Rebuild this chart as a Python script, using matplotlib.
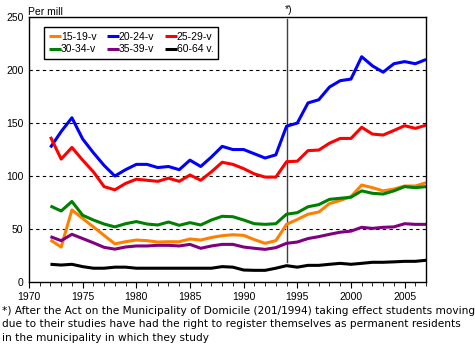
import matplotlib
matplotlib.use('Agg')
from matplotlib import pyplot as plt
from matplotlib.ticker import MultipleLocator

plt.rcParams['font.family'] = ['Liberation Sans', 'DejaVu Sans']

years = list(range(1972, 2008))

age_15_19 = [39.6, 33, 68, 60, 52, 44, 36, 38, 39.6, 39, 37.7, 38, 38, 40.6, 39.6, 42, 43.7, 44.6,
             44, 40, 36.5, 39, 54.4, 59, 64, 66, 74, 77, 80.5, 91.5, 89, 86, 87.7, 90.6, 90.6, 93.7]
age_20_24 = [127, 142, 155, 135, 122, 110, 100, 106, 111, 111, 108, 109, 106, 115, 109, 118, 128, 125,
             125, 121, 117, 120, 147, 150, 169, 172, 184, 190, 191.5, 212.6, 204, 198, 206, 208, 206, 210]
age_25_29 = [137, 116, 127, 115, 104, 90, 87, 93, 97, 96, 95, 98, 95, 101, 96, 104, 113, 111,
             107, 102, 99, 99, 113.5, 114, 124, 124.5, 131, 135.5, 135.5, 146, 139.6, 138.7, 143, 147.5, 145, 148]
age_30_34 = [71.7, 67, 76, 63, 58.5, 54.7, 52, 55, 57, 54.7, 53.8, 56.6, 53.5, 56, 53.8, 58.5, 62, 61.6,
             58.5, 55, 54.4, 55, 64, 65.4, 71, 73, 78, 79, 80, 86, 83.7, 83, 86, 90, 89, 90]
age_35_39 = [42.8, 39, 45, 41, 37, 32.7, 31, 33, 34, 34, 34.6, 34.6, 34, 35.5, 31.8, 34, 35.5, 35.5,
             33, 31.8, 30.8, 32.4, 36.5, 37.7, 41, 42.8, 45, 47, 48, 51.6, 50.6, 51.6, 52, 55, 54.4, 54.4]
age_60_64 = [16.7, 16, 16.7, 14.5, 13, 13, 14, 14, 13, 13, 13, 13, 13, 13, 13, 13, 14.5, 14,
             11.3, 11, 11, 13, 15.4, 14, 15.7, 15.7, 16.7, 17.6, 16.7, 17.6, 18.6, 18.6, 19, 19.5, 19.5, 20.5]

series = [
    ('15-19-v', age_15_19, '#FF8000'),
    ('20-24-v', age_20_24, '#0000FF'),
    ('25-29-v', age_25_29, '#FF0000'),
    ('30-34-v', age_30_34, '#008000'),
    ('35-39-v', age_35_39, '#800080'),
    ('60-64 v.', age_60_64, '#000000'),
]

fig = plt.figure(figsize=(4.75, 3.49), dpi=100)
ax = fig.add_axes([0.061, 0.192, 0.836, 0.759])

lines = {}
for label, vals, color in series:
    lines[label], = ax.plot(years, vals, color=color, lw=2.2, label=label, solid_capstyle='butt')

# grid lines
for yv in [50, 100, 150, 200]:
    ax.axhline(yv, color='black', lw=0.8, ls=(0, (3, 3)), zorder=0)

# law change marker
ax.plot([1994, 1994], [19, 248], color='#404040', lw=1.0, zorder=1)
ax.text(1994.2, 252, '*)', ha='center', va='bottom', fontsize=7.5, clip_on=False)

ax.set_xlim(1970, 2007)
ax.set_ylim(0, 250)
ax.xaxis.set_major_locator(MultipleLocator(5))
ax.xaxis.set_minor_locator(MultipleLocator(1))
ax.yaxis.set_major_locator(MultipleLocator(50))
ax.tick_params(axis='x', which='major', length=4, direction='out', labelsize=7.5, pad=3)
ax.tick_params(axis='x', which='minor', length=3, direction='out')
ax.tick_params(axis='y', length=0, labelsize=7.5, pad=4)
for sp in ax.spines.values():
    sp.set_linewidth(1.0)

order = ['15-19-v', '30-34-v', '20-24-v', '35-39-v', '25-29-v', '60-64 v.']
leg = ax.legend([lines[k] for k in order], order, ncol=3, loc='upper left',
                bbox_to_anchor=(0.038, 0.962), borderaxespad=0, fontsize=7.5,
                handlelength=1.15, handletextpad=0.0, columnspacing=1.0,
                labelspacing=0.25, fancybox=False, framealpha=1, edgecolor='black',
                borderpad=0.45)
leg.get_frame().set_linewidth(1.0)

fig.text(0.058, 0.98, 'Per mill', ha='left', va='top', fontsize=7.5)

footnote = ('*) After the Act on the Municipality of Domicile (201/1994) taking effect students moving\n'
            'due to their studies have had the right to register themselves as permanent residents\n'
            'in the municipality in which they study')
fig.text(0.004, 0.122, footnote, ha='left', va='top', fontsize=7.6, linespacing=1.38,
         family='DejaVu Sans')

fig.savefig('out.png', dpi=100)
